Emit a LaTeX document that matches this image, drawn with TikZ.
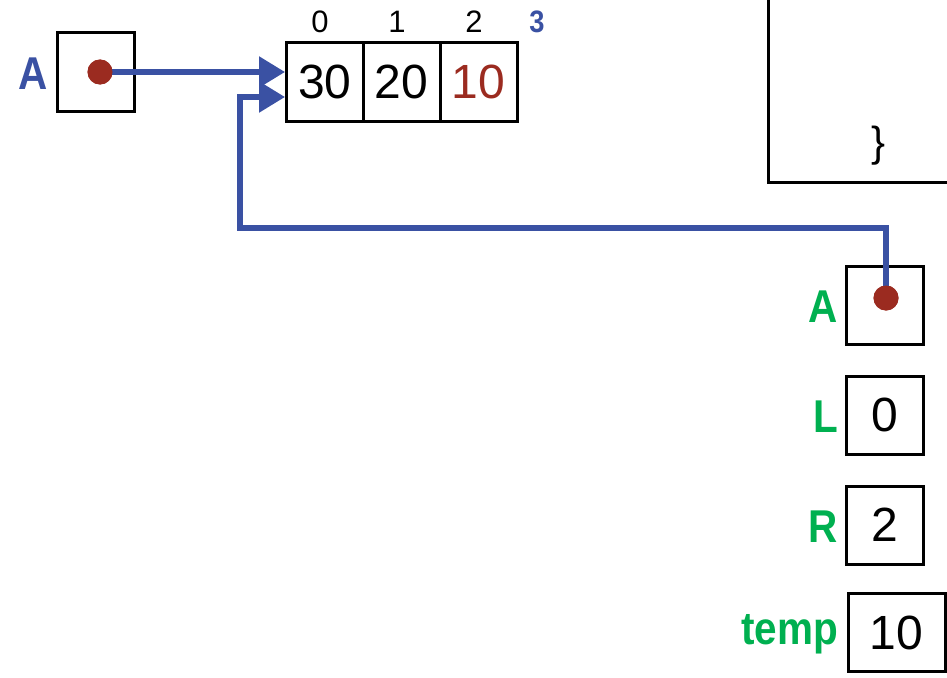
\documentclass[tikz,border=0pt]{standalone}
\usepackage{fontspec}
\setmainfont{Liberation Sans}
\usetikzlibrary{arrows.meta,calc}
\definecolor{pblue}{HTML}{3A51A3}
\definecolor{pred}{HTML}{9B2B20}
\definecolor{pgreen}{HTML}{00B050}
\newcommand{\narrow}[1]{\scalebox{0.88}[1]{#1}}
\begin{document}
\begin{tikzpicture}[x=1pt,y=-1pt,
  box/.style={draw=black,line width=3pt,minimum width=77pt,minimum height=78pt,inner sep=0pt,font=\fontsize{48}{48}\selectfont},
  cell/.style={box,minimum width=77pt},
  idx/.style={font=\fontsize{31}{31}\selectfont},
  glabel/.style={text=pgreen,font=\bfseries\fontsize{46}{46}\selectfont,anchor=east,inner sep=0pt},
  ptr/.style={draw=pblue,line width=5.5pt,-{Triangle[length=26pt,width=30pt]}},
  dot/.style={circle,fill=pred,minimum size=25pt,inner sep=0pt}]
\useasboundingbox (0,0) rectangle (947,677);
% left pointer A
\node[box] (lA) at (95.5,72) {};
\node[dot] (ldot) at (100,72) {};
\node[text=pblue,font=\bfseries\fontsize{46}{46}\selectfont,inner sep=0pt] (lAl) at (33,74) {\narrow{A}};
% array
\node[cell] (c0) at (325,82) {30};
\node[cell] (c1) at (401.5,82) {20};
\node[cell,text=pred] (c2) at (478.5,82) {10};
\node[idx] (i0) at (320,22) {0};
\node[idx] (i1) at (397,22) {1};
\node[idx] (i2) at (474,22) {2};
\node[text=pblue,font=\bfseries\fontsize{31}{31}\selectfont] (i3) at (537,22) {\narrow{3}};
% frame
\coordinate (ft) at (768,-2);
\coordinate (fc) at (768,182);
\coordinate (fr) at (949,182);
\draw[line width=3pt] (ft) -- (fc) -- (fr);
\node[font=\fontsize{42}{42}\selectfont] (brace) at (879,146) {\}};
% right variables
\node[box] (rA) at (885,305) {};
\node[dot] (rdot) at (886,298) {};
\node[glabel] (rAl) at (838,307) {\narrow{A}};
\node[box] (rL) at (885,415) {0};
\node[glabel] (rLl) at (838,417) {\narrow{L}};
\node[box] (rR) at (885,525) {2};
\node[glabel] (rRl) at (838,527) {\narrow{R}};
\node[box,minimum width=97pt] (rT) at (896.5,632.5) {10};
\node[glabel] (rTl) at (838,634) {\narrow{temp}};
% pointers
\draw[ptr] (ldot.center) -- (c0.west |- ldot.center);
\coordinate (turn1) at (886,228);
\coordinate (turn2) at (240,228);
\coordinate (turn3) at (240,97);
\draw[ptr] (rdot.center) -- (turn1) -- (turn2) -- (turn3) -- (c0.west |- turn3);
\node[dot] at (ldot) {};
\node[dot] at (rdot) {};
\end{tikzpicture}
\end{document}
